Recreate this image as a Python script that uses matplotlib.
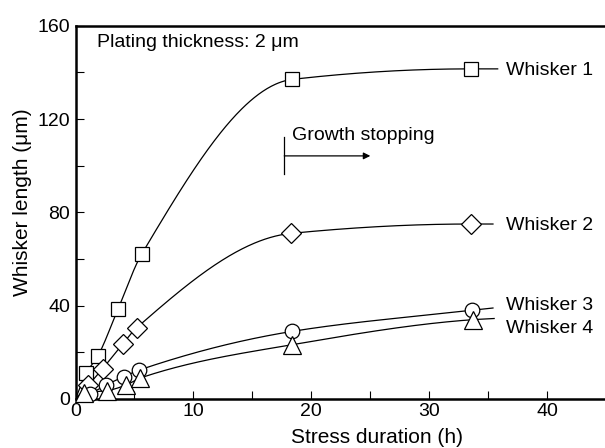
import numpy as np
import matplotlib
matplotlib.use("Agg")
import matplotlib.pyplot as plt

plt.rcParams['font.family'] = ['Liberation Sans', 'DejaVu Sans']

# stress duration (h) and whisker length (um)
w1_x = [0.9, 1.9, 3.6, 5.6, 18.4, 33.5]
w1_y = [11.0, 18.5, 38.5, 62.0, 137.0, 141.5]
w2_x = [1.1, 2.3, 4.0, 5.2, 18.3, 33.5]
w2_y = [6.0, 13.0, 23.6, 30.6, 71.0, 75.0]
w3_x = [1.2, 2.6, 4.1, 5.4, 18.4, 33.6]
w3_y = [2.2, 6.0, 9.6, 12.4, 29.0, 38.0]
w4_x = [0.7, 2.7, 4.3, 5.5, 18.4, 33.7]
w4_y = [2.5, 3.6, 6.0, 9.0, 23.3, 34.0]

# where each fitted curve stops on the right
end_x = [35.8, 35.4, 35.4, 35.5]
end_y = [141.5, 75.0, 39.0, 34.5]

names = ["Whisker 1", "Whisker 2", "Whisker 3", "Whisker 4"]
label_y = [139.0, 72.5, 38.0, 28.4]
markers = ["s", "D", "o", "^"]
msizes = [10.5, 10, 10.5, 12.5]


def pchip(x, y, xs):
    # monotone cubic through the points
    x = np.asarray(x, float)
    y = np.asarray(y, float)
    h = np.diff(x)
    d = np.diff(y) / h
    m = np.zeros_like(y)
    m[0] = d[0]
    m[-1] = d[-1]
    for k in range(1, len(x) - 1):
        if d[k-1] * d[k] > 0:
            w1 = 2*h[k] + h[k-1]
            w2 = h[k] + 2*h[k-1]
            m[k] = (w1 + w2) / (w1/d[k-1] + w2/d[k])
    idx = np.clip(np.searchsorted(x, xs) - 1, 0, len(x) - 2)
    t = (xs - x[idx]) / h[idx]
    h00 = 2*t**3 - 3*t**2 + 1
    h10 = t**3 - 2*t**2 + t
    h01 = -2*t**3 + 3*t**2
    h11 = t**3 - t**2
    return h00*y[idx] + h10*h[idx]*m[idx] + h01*y[idx+1] + h11*h[idx]*m[idx+1]


fig = plt.figure(figsize=(6.05, 4.48), dpi=100)
ax = fig.add_axes([0.1248, 0.1094, 0.8752, 0.8332])

series = [(w1_x, w1_y), (w2_x, w2_y), (w3_x, w3_y), (w4_x, w4_y)]
for i, (xs, ys) in enumerate(series):
    kx = [0.0] + list(xs) + [end_x[i]]
    ky = [0.0] + list(ys) + [end_y[i]]
    xx = np.linspace(0, end_x[i], 400)
    ax.plot(xx, pchip(kx, ky, xx), color='black', lw=0.9, zorder=2)
    ax.plot(xs, ys, linestyle='none', marker=markers[i], ms=msizes[i],
            mfc='white', mec='black', mew=0.9, zorder=3, clip_on=False)
    ax.text(36.5, label_y[i], names[i], fontsize=14, va='baseline', ha='left')

ax.text(1.8, 151, "Plating thickness: 2 \u03bcm", fontsize=14, va='baseline')

# growth stopping marker
ax.plot([17.7, 17.7], [96.4, 112.4], color='black', lw=0.9)
ax.annotate("", xy=(25.0, 104.2), xytext=(17.7, 104.2),
            arrowprops=dict(arrowstyle='-|>', color='black', lw=0.9,
                            mutation_scale=10, shrinkA=0, shrinkB=0))
ax.text(18.4, 111, "Growth stopping", fontsize=14, va='baseline')

ax.set_xlim(0, 44.9)
ax.set_ylim(0, 160)
ax.set_xticks([0, 10, 20, 30, 40])
ax.set_xticks([5, 15, 25, 35], minor=True)
ax.set_yticks([0, 40, 80, 120, 160])
ax.set_yticks([20, 60, 100, 140], minor=True)
ax.tick_params(which='both', direction='in', length=5.5, width=0.8,
               labelsize=14, top=False, right=False)
ax.tick_params(axis='x', pad=3)
ax.tick_params(axis='y', pad=4)

for s in ['left', 'bottom', 'top']:
    ax.spines[s].set_linewidth(1.8)
ax.spines['right'].set_visible(False)

ax.set_xlabel("Stress duration (h)", fontsize=15, va='center')
ax.xaxis.set_label_coords(0.570, -0.1045)
ax.set_ylabel("Whisker length (\u03bcm)", fontsize=15, va='center')
ax.yaxis.set_label_coords(-0.0997, 0.5285)

fig.savefig("out.png", dpi=100)
